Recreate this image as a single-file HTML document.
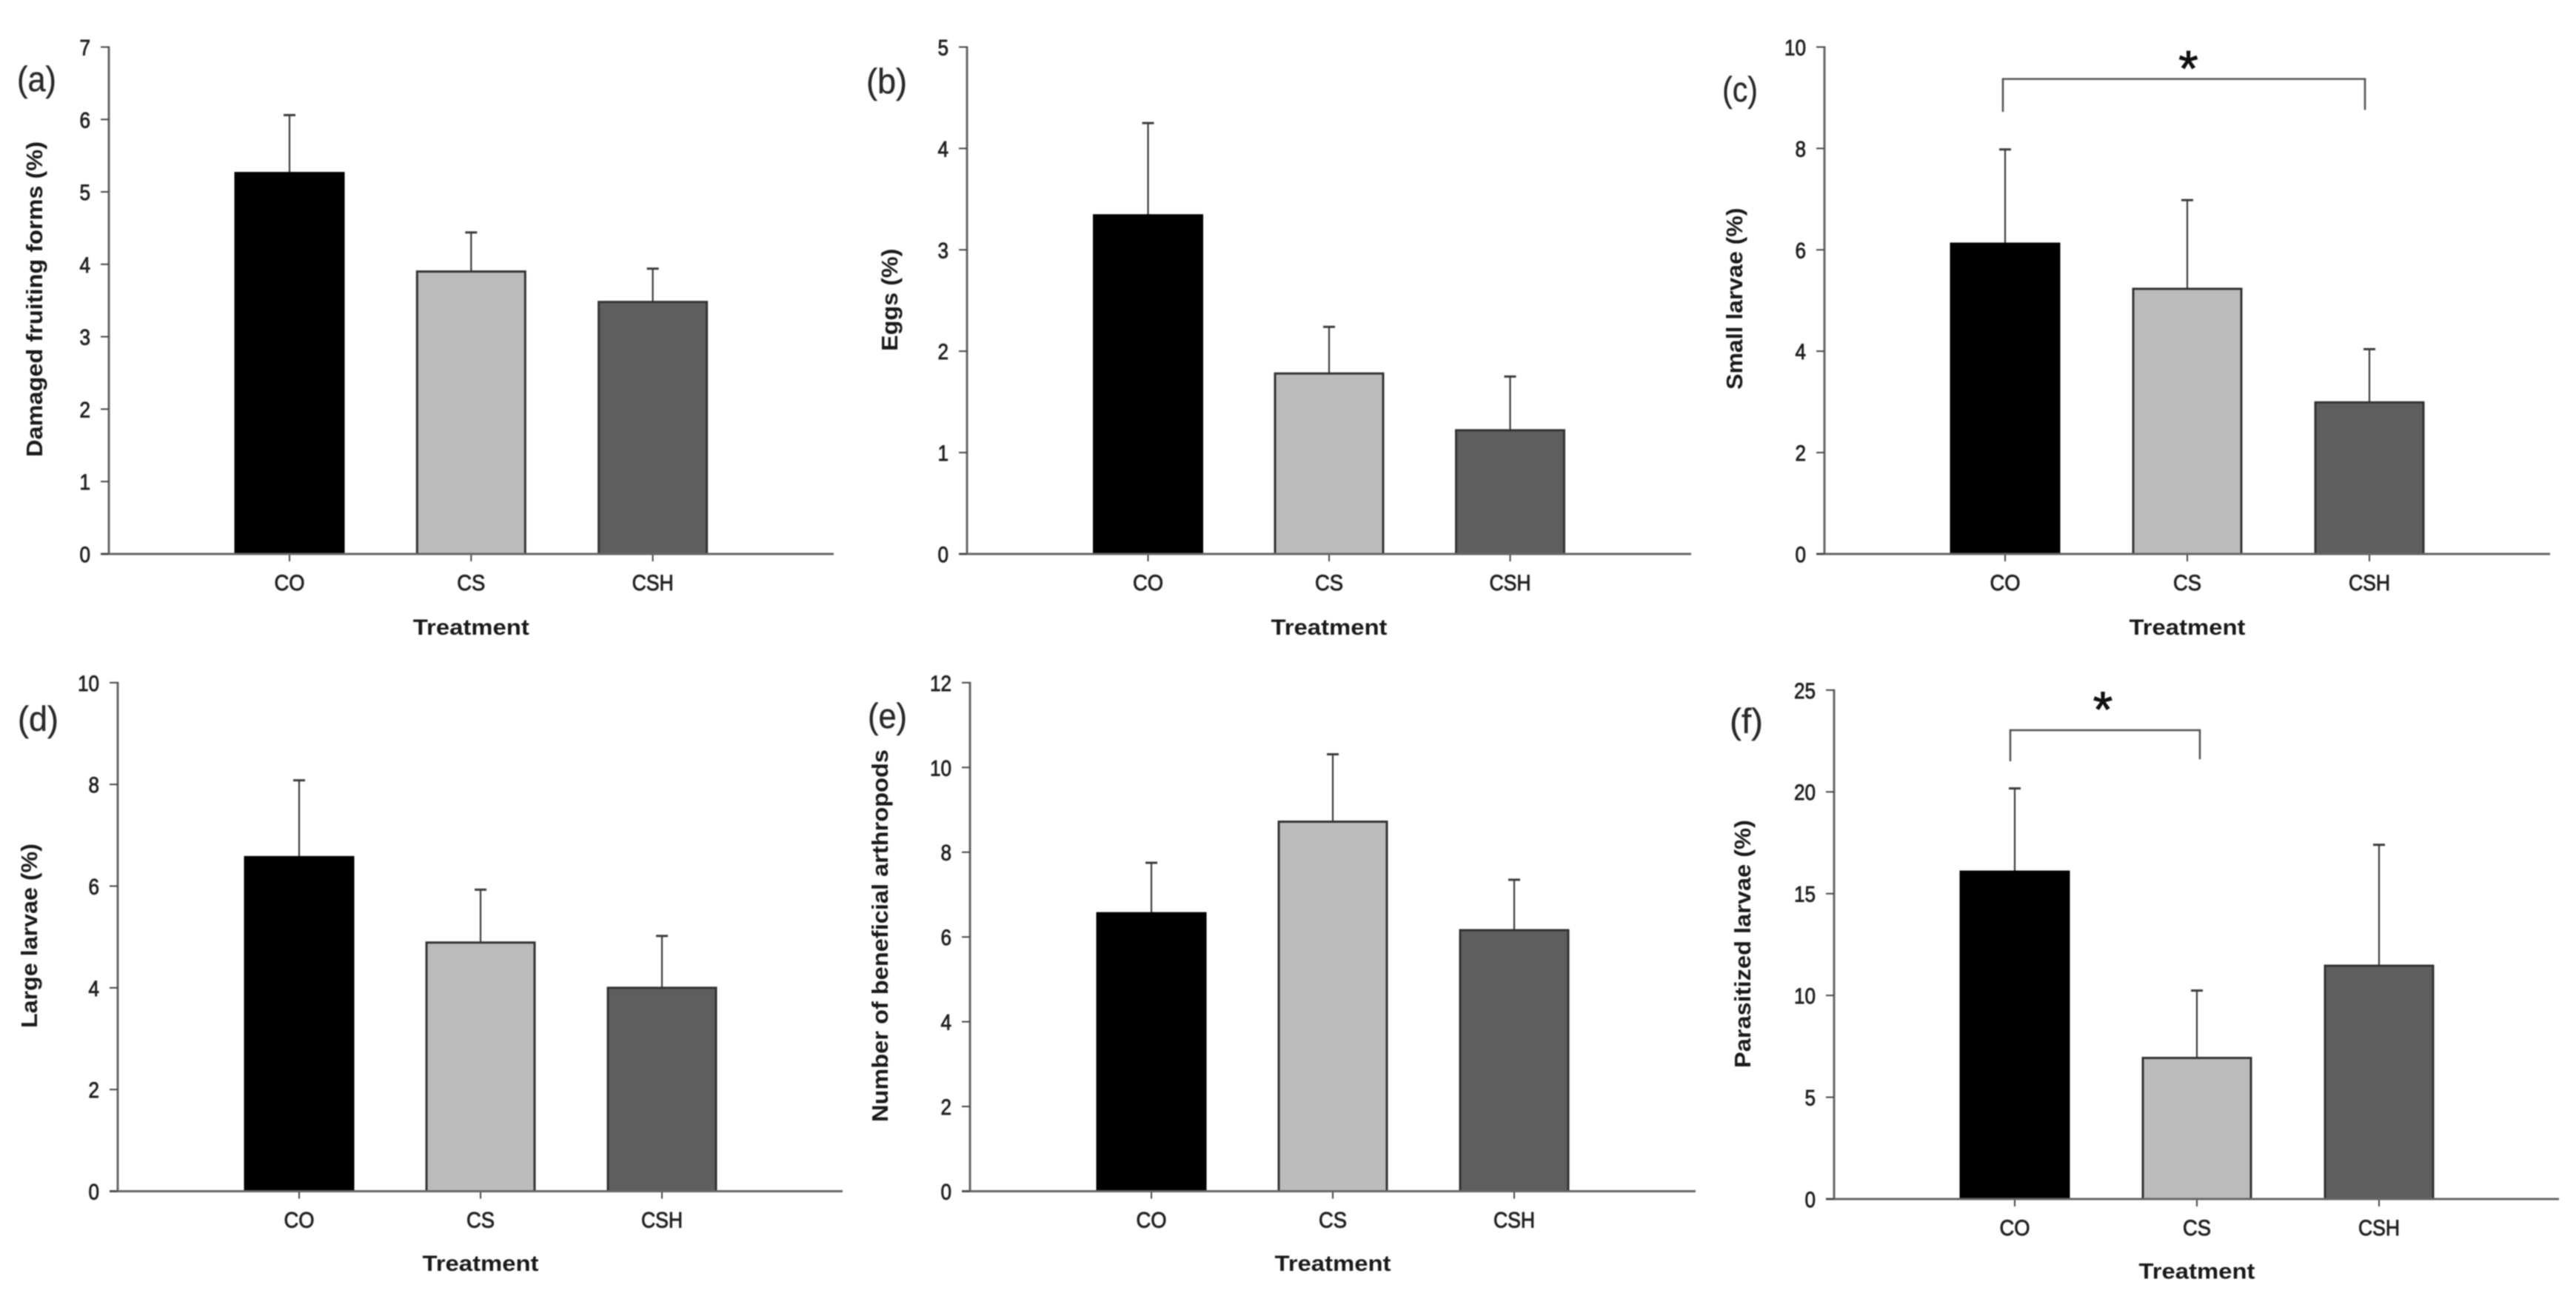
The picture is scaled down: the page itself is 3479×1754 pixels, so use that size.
<!DOCTYPE html>
<html lang="en">
<head>
<meta charset="utf-8">
<title>Treatment effects on fruiting forms, eggs, larvae and beneficial arthropods</title>
<style>
html,body{margin:0;padding:0;background:#fff;}
body{width:3479px;height:1754px;overflow:hidden;}
svg{display:block;filter:blur(0.7px);}
text{font-family:"Liberation Sans",sans-serif;}
</style>
</head>
<body>
<svg id="figure" xmlns="http://www.w3.org/2000/svg" width="3479" height="1754" viewBox="0 0 3479 1754"></svg>
<script>
const categories = ['CO', 'CS', 'CSH'];

const valuesA = [5.26, 3.90, 3.48];
const errorsA = [0.80, 0.54, 0.46];
const ticksA = [0, 1, 2, 3, 4, 5, 6, 7];

const valuesB = [3.34, 1.78, 1.22];
const errorsB = [0.91, 0.46, 0.53];
const ticksB = [0, 1, 2, 3, 4, 5];

const valuesC = [6.12, 5.23, 2.99];
const errorsC = [1.86, 1.75, 1.05];
const ticksC = [0, 2, 4, 6, 8, 10];

const valuesD = [6.57, 4.89, 4.00];
const errorsD = [1.51, 1.04, 1.02];
const ticksD = [0, 2, 4, 6, 8, 10];

const valuesE = [6.56, 8.72, 6.16];
const errorsE = [1.19, 1.59, 1.19];
const ticksE = [0, 2, 4, 6, 8, 10, 12];

const valuesF = [16.08, 6.93, 11.46];
const errorsF = [4.09, 3.31, 5.94];
const ticksF = [0, 5, 10, 15, 20, 25];

const fills = ['#000000', '#bbbbbb', '#5e5e5e'];
const SVG_NS = 'http://www.w3.org/2000/svg';
const figure = document.getElementById('figure');

const panels = [
  {id:'a', title:'Damaged fruiting forms (%)', values:valuesA, errors:errorsA, ticks:ticksA,
   axisX:147, top:63.5, bottom:748, first:391, step:245.3, xEnd:1126, titleGap:109,
   tag:{x:23, y:123, w:53, t:'(a)'}, ty:{x:57, a:191, b:617}},
  {id:'b', title:'Eggs (%)', values:valuesB, errors:errorsB, ticks:ticksB,
   axisX:1306, top:63.5, bottom:748, first:1550.5, step:244.5, xEnd:2284, titleGap:109,
   tag:{x:1170, y:126, w:55, t:'(b)'}, ty:{x:1212, a:335.6, b:474}},
  {id:'c', title:'Small larvae (%)', values:valuesC, errors:errorsC, ticks:ticksC,
   axisX:2464, top:63.5, bottom:748, first:2708, step:246, xEnd:3444, titleGap:109,
   tag:{x:2326, y:137, w:48, t:'(c)'}, ty:{x:2353, a:280.6, b:526},
   bracket:{from:0, to:2, y:9.37, legFrom:8.72, legTo:8.76, xa:-3, xb:-6, starDx:6, starDy:-28}},
  {id:'d', title:'Large larvae (%)', values:valuesD, errors:errorsD, ticks:ticksD,
   axisX:159, top:921.8, bottom:1608.5, first:404, step:245, xEnd:1138, titleGap:107.5,
   tag:{x:24, y:987, w:55, t:'(d)'}, ty:{x:50, a:1139, b:1388}},
  {id:'e', title:'Number of beneficial arthropods', values:valuesE, errors:errorsE, ticks:ticksE,
   axisX:1310, top:921.8, bottom:1608.5, first:1555, step:245, xEnd:2290, titleGap:107.5,
   tag:{x:1172, y:983, w:53, t:'(e)'}, ty:{x:1199, a:1012, b:1515}},
  {id:'f', title:'Parasitized larvae (%)', values:valuesF, errors:errorsF, ticks:ticksF,
   axisX:2477, top:931.8, bottom:1619, first:2721, step:246, xEnd:3456, titleGap:107.5,
   tag:{x:2336, y:990, w:45, t:'(f)'}, ty:{x:2364, a:1107, b:1442},
   bracket:{from:0, to:1, y:23.03, legFrom:21.5, legTo:21.6, xa:-6, xb:4, starDx:-3, starDy:-42}}
];

function make(parent, tag, props, text) {
  const node = document.createElementNS(SVG_NS, tag);
  for (const key in props) node.setAttribute(key, props[key]);
  if (text !== undefined) node.textContent = text;
  parent.appendChild(node);
  return node;
}

function drawPanel(p) {
  const maxTick = p.ticks[p.ticks.length - 1];
  const yScale = function (v) { return p.bottom - (v / maxTick) * (p.bottom - p.top); };
  const xScale = function (i) { return p.first + i * p.step; };
  const barWidth = 146;

  const panel = make(figure, 'g', {});
  
  

  const tag = make(panel, 'text', {x:p.tag.x, y:p.tag.y, 'font-size':47, fill:'#2a2a2a', stroke:'#2a2a2a', 'stroke-width':0.4, textLength:p.tag.w, lengthAdjust:'spacingAndGlyphs'}, p.tag.t);
  
  

  p.values.forEach(function (v, i) {
    const cx = xScale(i);
    const topY = yScale(v);
    const errY = yScale(v + p.errors[i]);

    const errLine = make(panel, 'line', {x1:cx, x2:cx, y1:topY, y2:errY, stroke:'#3a3a3a', 'stroke-width':2.2});
    
    

    const errCap = make(panel, 'line', {x1:cx - 8, x2:cx + 8, y1:errY, y2:errY, stroke:'#3a3a3a', 'stroke-width':3});
    
    

    const bar = make(panel, 'rect', {x:cx - barWidth / 2, y:topY, width:barWidth, height:p.bottom - topY, fill:fills[i], stroke:i === 0 ? '#000' : '#333', 'stroke-width':3});
    
    

    const xTick = make(panel, 'line', {x1:cx, x2:cx, y1:p.bottom, y2:p.bottom + 10, stroke:'#444', 'stroke-width':2});
    
    

    const catWidth = categories[i].length === 3 ? 56 : (i === 0 ? 41 : 38);
    const catLabel = make(panel, 'text', {x:cx, y:p.bottom + 49, 'font-size':30, 'text-anchor':'middle', fill:'#222', stroke:'#222', 'stroke-width':0.9, textLength:catWidth, lengthAdjust:'spacingAndGlyphs'}, categories[i]);
    
    
  });

  const yAxis = make(panel, 'line', {x1:p.axisX, x2:p.axisX, y1:p.top - 1, y2:p.bottom + 1, stroke:'#666', 'stroke-width':3});
  
  

  const xAxis = make(panel, 'line', {x1:p.axisX - 11, x2:p.xEnd, y1:p.bottom, y2:p.bottom, stroke:'#666', 'stroke-width':3});
  
  

  p.ticks.forEach(function (t) {
    const y = yScale(t);
    const yTick = make(panel, 'line', {x1:p.axisX - 11, x2:p.axisX, y1:y, y2:y, stroke:'#444', 'stroke-width':2});
    
    

    const label = String(t);
    const tickLabel = make(panel, 'text', {x:p.axisX - 25, y:y + 11, 'font-size':30, 'text-anchor':'end', fill:'#222', stroke:'#222', 'stroke-width':0.9, textLength:label.length * 14.5, lengthAdjust:'spacingAndGlyphs'}, label);
    
    
  });

  const midY = (p.ty.a + p.ty.b) / 2;
  const yTitle = make(panel, 'text', {x:0, y:0, transform:'translate(' + p.ty.x + ' ' + midY + ') rotate(-90)', 'font-size':31, 'font-weight':'bold', 'text-anchor':'middle', fill:'#1a1a1a', textLength:p.ty.b - p.ty.a, lengthAdjust:'spacingAndGlyphs'}, p.title);
  
  

  const xTitle = make(panel, 'text', {x:xScale(1), y:p.bottom + p.titleGap, 'font-size':30, 'font-weight':'bold', 'text-anchor':'middle', fill:'#1a1a1a', textLength:157, lengthAdjust:'spacingAndGlyphs'}, 'Treatment');
  
  

  if (p.bracket) {
    const b = p.bracket;
    const xa = xScale(b.from) + b.xa;
    const xb = xScale(b.to) + b.xb;
    const by = yScale(b.y);
    const pts = [xa, yScale(b.legFrom), xa, by, xb, by, xb, yScale(b.legTo)].join(' ');
    const bracket = make(panel, 'polyline', {points:pts, fill:'none', stroke:'#555', 'stroke-width':2.6});
    
    

    const star = make(panel, 'text', {x:(xa + xb) / 2 + b.starDx, y:by + b.starDy + 37, 'font-size':68, 'text-anchor':'middle', fill:'#111', stroke:'#111', 'stroke-width':1}, '*');
    
    
  }
}

panels.forEach(drawPanel);
</script>
</body>
</html>
